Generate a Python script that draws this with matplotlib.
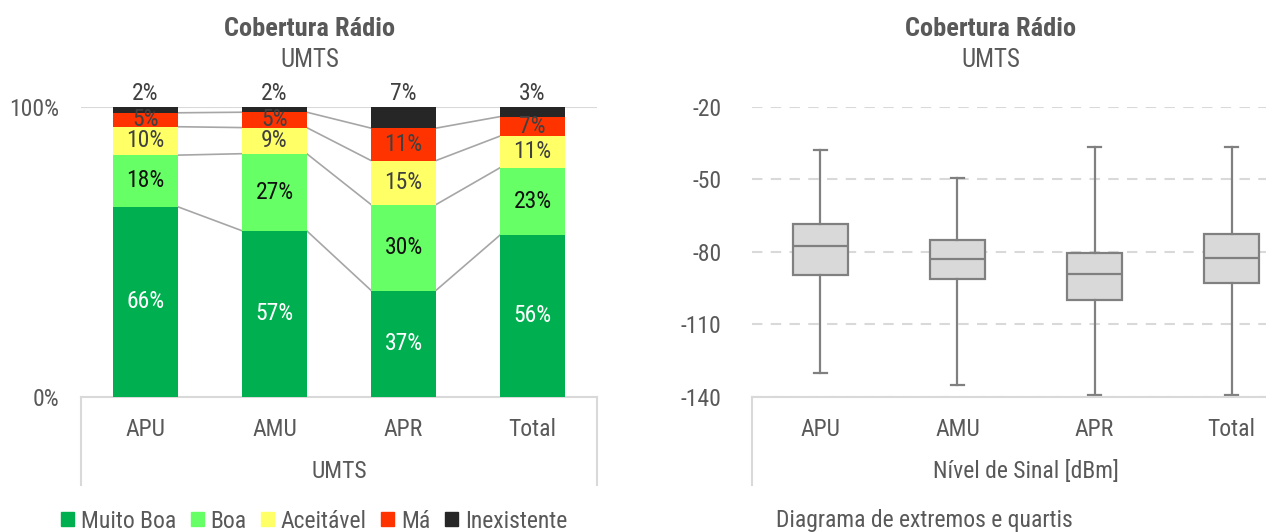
import matplotlib.pyplot as plt
import numpy as np
from matplotlib.patches import Patch

plt.rcParams['font.family'] = ['Roboto Condensed', 'DejaVu Sans']
plt.rcParams['axes.unicode_minus'] = False

# coverage shares per area (percent)
areas = ['APU', 'AMU', 'APR', 'Total']
classes = ['Muito Boa', 'Boa', 'Aceitável', 'Má', 'Inexistente']
muito_boa = [65.6, 57.3, 36.7, 55.9]
boa = [17.8, 26.6, 29.6, 23.2]
aceitavel = [9.8, 9.0, 15.2, 10.9]
ma = [4.8, 5.3, 11.2, 6.7]
inexistente = [2.0, 1.8, 7.3, 3.3]

# signal level stats (dBm)
sig_min = [-130.2, -135.2, -139.0, -139.0]
sig_q1 = [-89.7, -91.1, -100.0, -92.8]
sig_med = [-77.7, -82.8, -89.0, -82.5]
sig_q3 = [-68.4, -74.9, -80.3, -72.6]
sig_max = [-38.0, -49.5, -36.7, -36.7]

colors = ['#00B050', '#66FF66', '#FFFF66', '#FF3300', '#262626']
label_colors = ['white', '#111111', '#404040', '#404040', '#404040']
txt = '#595959'
fs = 17
fs_title = 19

fig = plt.figure(figsize=(12.66, 5.32), dpi=100)
W, H = 1266, 532

def px_axes(x0, x1, ytop, ybot):
    return fig.add_axes([x0 / W, 1 - ybot / H, (x1 - x0) / W, (ybot - ytop) / H])

# ---- stacked bars ----
ax = px_axes(81, 597, 107, 397)
series = [muito_boa, boa, aceitavel, ma, inexistente]
x = np.arange(len(areas))
bw = 0.5
bottom = np.zeros(len(areas))
tops = []
for i, vals in enumerate(series):
    vals = np.array(vals)
    ax.bar(x, vals, bw, bottom=bottom, color=colors[i], zorder=3)
    for xi, b, v in zip(x, bottom, vals):
        if i == len(series) - 1:
            ax.text(xi, 100.6, f'{round(v):.0f}%', ha='center', va='bottom',
                    color=label_colors[i], fontsize=fs, clip_on=False, zorder=5)
        else:
            ax.text(xi, b + v / 2, f'{round(v):.0f}%', ha='center', va='center',
                    color=label_colors[i], fontsize=fs, zorder=5)
    bottom = bottom + vals
    tops.append(bottom.copy())

# series lines between bar tops
for t in tops[:-1]:
    for j in range(len(areas) - 1):
        ax.plot([x[j] + bw / 2, x[j + 1] - bw / 2], [t[j], t[j + 1]],
                color='#A6A6A6', lw=1.2, zorder=2)

ax.set_xlim(-0.5, len(areas) - 0.5)
ax.set_ylim(0, 100)
ax.set_yticks([0, 100])
ax.set_yticklabels(['0%', '100%'])
ax.axhline(100, color='#D9D9D9', lw=1.5, zorder=1)
ax.set_xticks(x)
ax.set_xticklabels(areas)
ax.tick_params(length=0, labelsize=fs, colors=txt)
ax.tick_params(axis='y', pad=16)
ax.tick_params(axis='x', pad=15)
for s in ['top', 'right', 'left']:
    ax.spines[s].set_visible(False)
ax.spines['bottom'].set_color('#D9D9D9')
ax.spines['bottom'].set_linewidth(1.5)
ax.set_xlabel('UMTS', fontsize=fs, color=txt, labelpad=14)
for xa in (0, 1):
    ax.plot([xa, xa], [0, -88 / 290], transform=ax.transAxes, color='#D9D9D9',
            lw=1.5, clip_on=False)

fig.legend([Patch(color=c) for c in colors], classes, loc='center',
           bbox_to_anchor=(314 / W, 1 - 521 / H), ncol=5, frameon=False,
           fontsize=fs, handlelength=0.55, handleheight=0.55, handletextpad=0.3,
           columnspacing=0.6, labelcolor=txt)

fig.text(310 / W, 1 - 29 / H, 'Cobertura Rádio', ha='center', va='center',
         fontsize=fs_title, fontweight='bold', color=txt)
fig.text(310 / W, 1 - 60 / H, 'UMTS', ha='center', va='center', fontsize=fs + 1, color=txt)

# ---- box plot ----
bx = px_axes(752, 1300, 107, 397)
stats = []
for i, a in enumerate(areas):
    stats.append(dict(label=a, whislo=sig_min[i], q1=sig_q1[i], med=sig_med[i],
                      q3=sig_q3[i], whishi=sig_max[i], fliers=[]))
grey = '#808080'
bx.bxp(stats, positions=x, widths=0.4, capwidths=0.09, patch_artist=True,
       showfliers=False,
       boxprops=dict(facecolor='#D9D9D9', edgecolor=grey, linewidth=1.6),
       medianprops=dict(color=grey, linewidth=1.6),
       whiskerprops=dict(color=grey, linewidth=1.6),
       capprops=dict(color=grey, linewidth=1.6))
bx.set_xlim(-0.5, len(areas) - 0.5)
bx.set_ylim(-140, -20)
bx.set_yticks([-20, -50, -80, -110, -140])
bx.yaxis.grid(True, color='#D9D9D9', lw=1.5, linestyle=(0, (5, 4)))
bx.set_axisbelow(True)
bx.tick_params(length=0, labelsize=fs, colors=txt)
bx.tick_params(axis='y', pad=22)
bx.tick_params(axis='x', pad=15)
for s in ['top', 'right', 'left']:
    bx.spines[s].set_visible(False)
bx.spines['bottom'].set_color('#D9D9D9')
bx.spines['bottom'].set_linewidth(1.5)
bx.set_xlabel('Nível de Sinal [dBm]', fontsize=fs, color=txt, labelpad=14)
bx.plot([0, 0], [0, -88 / 290], transform=bx.transAxes, color='#D9D9D9',
        lw=1.5, clip_on=False)

fig.text(991 / W, 1 - 29 / H, 'Cobertura Rádio', ha='center', va='center',
         fontsize=fs_title, fontweight='bold', color=txt)
fig.text(991 / W, 1 - 60 / H, 'UMTS', ha='center', va='center', fontsize=fs + 1, color=txt)
fig.text(776 / W, 1 - 521 / H, 'Diagrama de extremos e quartis', ha='left',
         va='center', fontsize=fs, color=txt)

fig.savefig('out.png', dpi=100)
